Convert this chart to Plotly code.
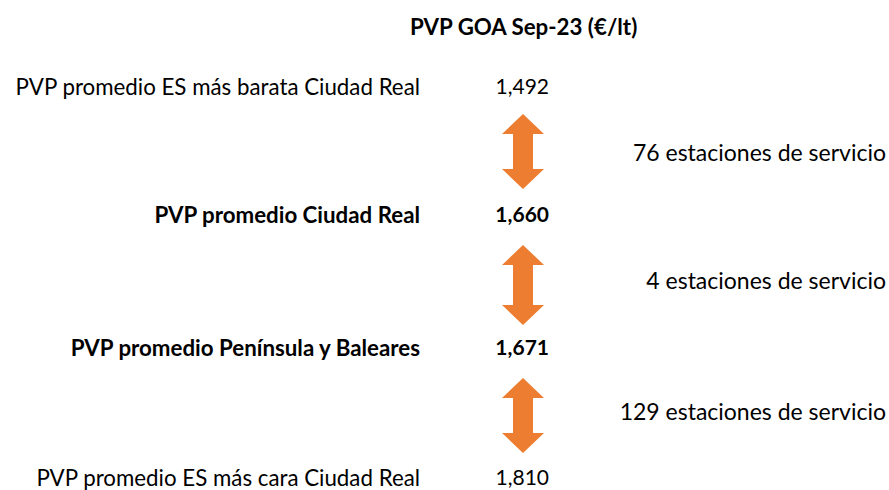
import plotly.graph_objects as go

# ---- data ----
title_text = "PVP GOA Sep-23 (€/lt)"
row_labels = [
    "PVP promedio ES más barata Ciudad Real",
    "PVP promedio Ciudad Real",
    "PVP promedio Península y Baleares",
    "PVP promedio ES más cara Ciudad Real",
]
row_values = [1.492, 1.660, 1.671, 1.810]
row_bold = [False, True, True, False]
gap_labels = [
    "76 estaciones de servicio",
    "4 estaciones de servicio",
    "129 estaciones de servicio",
]

# ---- layout / style ----
W, H = 889, 490
FONT = "Lato, Calibri, Carlito, sans-serif"
SIZE = 22.3
GSIZE = 23
VSIZE = 21
ORANGE = "#ED7D31"
row_y = [89, 217, 350, 480]
gap_y = [155, 283, 414]
arrow_spans = [(114, 189), (245, 325), (378, 453)]
label_x = 420
value_x = 549
gap_x = 886
arrow_cx = 523
title_x, title_y = 523, 26

def fmt(v):
    return f"{v:.3f}".replace(".", ",")

def b(t, bold):
    return f"<b>{t}</b>" if bold else t

fig = go.Figure()
fig.add_trace(go.Scatter(
    x=[label_x] * len(row_labels), y=row_y, mode="text",
    text=[b(t, bb) for t, bb in zip(row_labels, row_bold)],
    textposition="middle left",
    textfont=dict(family=FONT, size=SIZE, color="black"),
    hoverinfo="skip", showlegend=False, cliponaxis=False,
))
fig.add_trace(go.Scatter(
    x=[value_x] * len(row_values), y=row_y, mode="text",
    text=[b(fmt(v), bb) for v, bb in zip(row_values, row_bold)],
    textposition="middle left",
    textfont=dict(family=FONT, size=VSIZE, color="black"),
    hoverinfo="skip", showlegend=False, cliponaxis=False,
))
fig.add_trace(go.Scatter(
    x=[gap_x] * len(gap_labels), y=gap_y, mode="text",
    text=gap_labels, textposition="middle left",
    textfont=dict(family=FONT, size=GSIZE, color="black"),
    hoverinfo="skip", showlegend=False, cliponaxis=False,
))

shapes = []
for top, bot in arrow_spans:
    hw, sw, hh = 21, 10, 20
    c = arrow_cx
    path = (f"M {c} {top} L {c+hw} {top+hh} L {c+sw} {top+hh} L {c+sw} {bot-hh} "
            f"L {c+hw} {bot-hh} L {c} {bot} L {c-hw} {bot-hh} L {c-sw} {bot-hh} "
            f"L {c-sw} {top+hh} L {c-hw} {top+hh} Z")
    shapes.append(dict(type="path", path=path, xref="x", yref="y",
                       fillcolor=ORANGE, line=dict(width=0)))

fig.update_layout(
    width=W, height=H, margin=dict(l=0, r=0, t=0, b=0),
    paper_bgcolor="white", plot_bgcolor="white",
    xaxis=dict(range=[0, W], visible=False, fixedrange=True),
    yaxis=dict(range=[H, 0], visible=False, fixedrange=True),
    shapes=shapes,
    annotations=[dict(x=title_x, y=title_y, xref="x", yref="y",
                      text=f"<b>{title_text}</b>", showarrow=False,
                      font=dict(family=FONT, size=SIZE, color="black"))],
)

fig.write_html(
    "out.html",
    config={"displayModeBar": False},
    post_script="document.body.style.margin='0';document.body.style.overflow='hidden';",
)
